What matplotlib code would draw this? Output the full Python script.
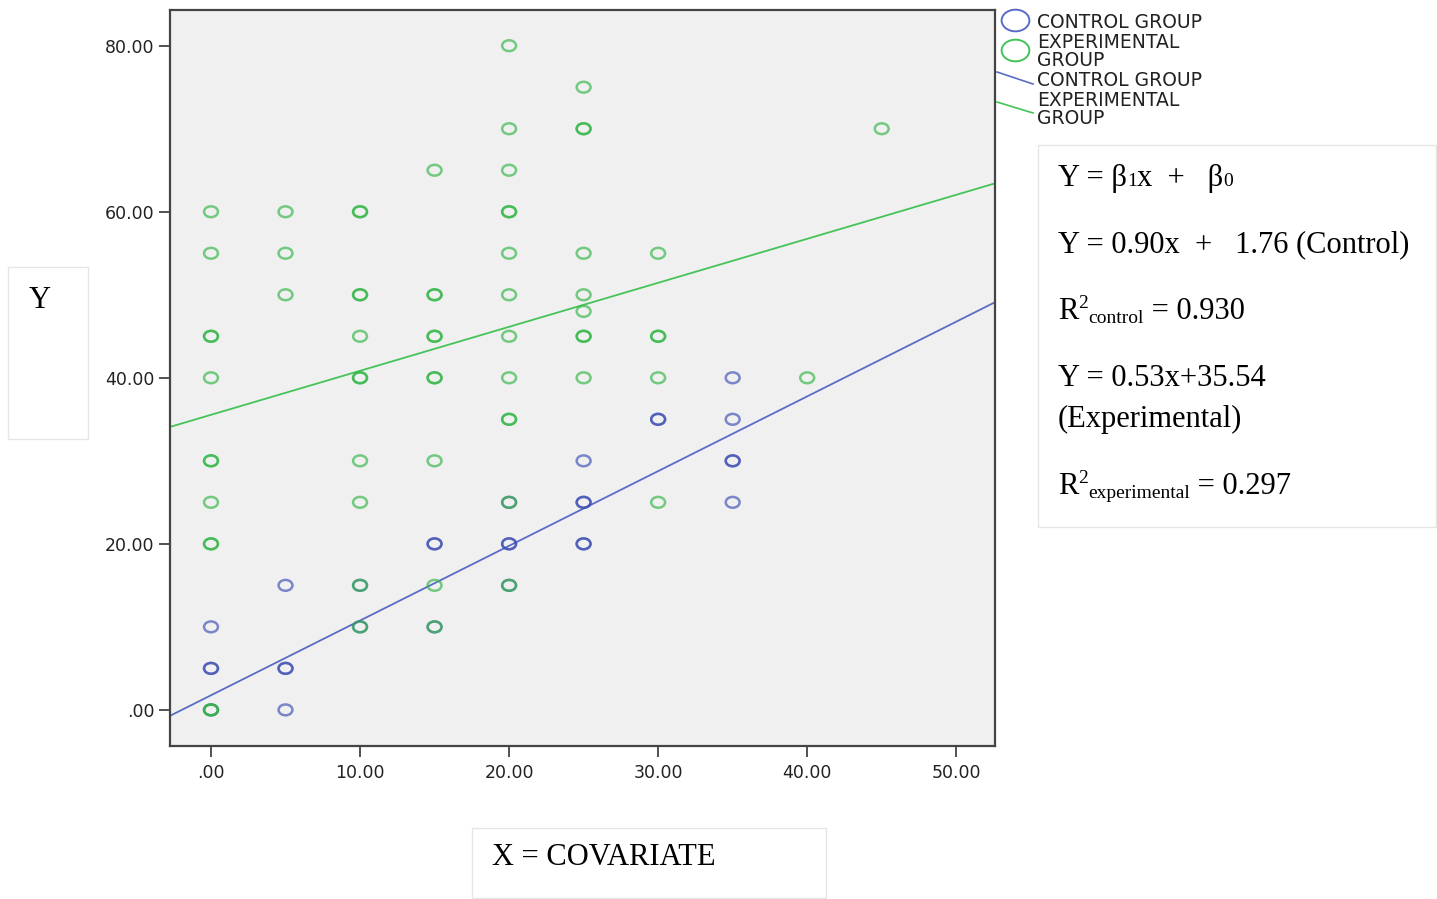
import matplotlib
matplotlib.use('Agg')
import matplotlib.pyplot as plt
from matplotlib.path import Path
from matplotlib.transforms import Affine2D
from matplotlib.lines import Line2D
from matplotlib.patches import Rectangle

# control group (x, y) -- repeated pairs are overlapping cases
ctrl_x = [0, 0, 0, 0, 5, 5, 5, 5, 10, 10, 15, 15, 15, 20, 20, 20, 20,
          25, 25, 25, 25, 25, 30, 30, 35, 35, 35, 35, 35]
ctrl_y = [0, 5, 5, 10, 0, 5, 5, 15, 10, 15, 10, 20, 20, 15, 20, 20, 25,
          20, 20, 25, 25, 30, 35, 35, 25, 30, 30, 35, 40]

# experimental group
exp_x = [0] * 12 + [5] * 3 + [10] * 11 + [15] * 10 + [20] * 13 + [25] * 9 + [30] * 5 + [40, 45]
exp_y = [0, 0, 20, 20, 25, 30, 30, 40, 45, 45, 55, 60,
         50, 55, 60,
         10, 15, 25, 30, 40, 40, 45, 50, 50, 60, 60,
         10, 15, 30, 40, 40, 45, 45, 50, 50, 65,
         15, 25, 35, 35, 40, 45, 50, 55, 60, 60, 65, 70, 80,
         40, 45, 45, 48, 50, 55, 70, 70, 75,
         25, 40, 45, 45, 55,
         40, 70]

# fitted lines (slope, intercept)
fit_ctrl = (0.90, 1.76)
fit_exp = (0.53, 35.54)

x_ticks = [0, 10, 20, 30, 40, 50]
y_ticks = [0, 20, 40, 60, 80]
tick_labels_x = ['.00', '10.00', '20.00', '30.00', '40.00', '50.00']
tick_labels_y = ['.00', '20.00', '40.00', '60.00', '80.00']

W, H = 1437, 899
BLUE = '#3c4db3'
GREEN = '#2fb543'
BLUE_LINE = '#5a6cc6'
GREEN_LINE = '#44c458'

def fx(px):
    return px / W

def fy(py):
    return 1 - py / H

fig = plt.figure(figsize=(W / 100, H / 100), dpi=100)
fig.patch.set_facecolor('white')
ax = fig.add_axes([fx(170), fy(746), fx(995) - fx(170), fy(10) - fy(746)])
ax.set_facecolor('#f0f0f0')

ell = Path.unit_circle().transformed(Affine2D().scale(1, 0.78))
ax.scatter(ctrl_x, ctrl_y, marker=ell, s=100, facecolors='none', edgecolors=BLUE,
           linewidths=1.8, alpha=0.65, zorder=3)
ax.scatter(exp_x, exp_y, marker=ell, s=100, facecolors='none', edgecolors=GREEN,
           linewidths=1.8, alpha=0.65, zorder=4)

xmin, xmax = -2.75, 52.6
ax.plot([xmin, xmax], [fit_ctrl[0] * xmin + fit_ctrl[1], fit_ctrl[0] * xmax + fit_ctrl[1]],
        color=BLUE_LINE, lw=1.3, zorder=2)
ax.plot([xmin, xmax], [fit_exp[0] * xmin + fit_exp[1], fit_exp[0] * xmax + fit_exp[1]],
        color=GREEN_LINE, lw=1.3, zorder=2)
ax.set_xlim(xmin, xmax)
ax.set_ylim(-4.35, 84.3)

ax.set_xticks(x_ticks)
ax.set_xticklabels(tick_labels_x)
ax.set_yticks(y_ticks)
ax.set_yticklabels(tick_labels_y)
ax.tick_params(direction='out', length=8, width=1.2, color='#333333',
               labelsize=12.5, labelcolor='#222222', pad=3)
ax.tick_params(axis='x', pad=5)
for sp in ax.spines.values():
    sp.set_color('#444444')
    sp.set_linewidth(1.6)

# legend drawn by hand, outside to the right
leg_font = dict(fontsize=13.5, color='#222222', family='DejaVu Sans', va='center')
fig.add_artist(Line2D([fx(1015)], [fy(20)], marker=ell, markersize=20, mfc='none',
                      mec=BLUE_LINE, mew=1.4, ls='none'))
fig.add_artist(Line2D([fx(1015)], [fy(50)], marker=ell, markersize=20, mfc='none',
                      mec=GREEN_LINE, mew=1.4, ls='none'))
fig.add_artist(Line2D([fx(997), fx(1033)], [fy(72), fy(84)], color=BLUE_LINE, lw=1.2))
fig.add_artist(Line2D([fx(997), fx(1033)], [fy(102), fy(113)], color=GREEN_LINE, lw=1.2))
for txt, py in [('CONTROL GROUP', 22), ('EXPERIMENTAL', 43), ('GROUP', 60),
                ('CONTROL GROUP', 80), ('EXPERIMENTAL', 101), ('GROUP', 118)]:
    fig.text(fx(1037), fy(py), txt, **leg_font)

# boxes
for x0, y0, x1, y1 in [(1038, 145, 1436, 527), (8, 267, 88, 439), (472, 828, 826, 898)]:
    fig.add_artist(Rectangle((fx(x0), fy(y1)), fx(x1) - fx(x0), fy(y0) - fy(y1),
                             fill=False, edgecolor='#e6e6e6', lw=1.0))

serif = 'Liberation Serif'
big, small = 22, 14
fig.text(fx(29), fy(308), 'Y', fontsize=big, family=serif, va='baseline')
fig.text(fx(492), fy(865), 'X = COVARIATE', fontsize=big, family=serif, va='baseline')

renderer = fig.canvas.get_renderer()

def draw_runs(px, py, runs):
    # runs: (text, fontsize, baseline shift in px)
    x = fx(px)
    for txt, size, dy in runs:
        t = fig.text(x, fy(py - dy), txt, fontsize=size, family=serif, va='baseline')
        w = t.get_window_extent(renderer=renderer).width
        x += w / W

draw_runs(1058, 186, [('Y = β', big, 0), ('1', small, 0), ('x  +   β', big, 0), ('0', small, 0)])
draw_runs(1058, 252, [('Y = 0.90x  +   1.76 (Control)', big, 0)])
draw_runs(1058, 319, [('R', big, 0), ('2', small, 11), ('control', small, -4), (' = 0.930', big, 0)])
draw_runs(1058, 386, [('Y = 0.53x+35.54', big, 0)])
draw_runs(1058, 427, [('(Experimental)', big, 0)])
draw_runs(1058, 494, [('R', big, 0), ('2', small, 11), ('experimental', small, -4), (' = 0.297', big, 0)])

fig.savefig('out.png', dpi=100)
